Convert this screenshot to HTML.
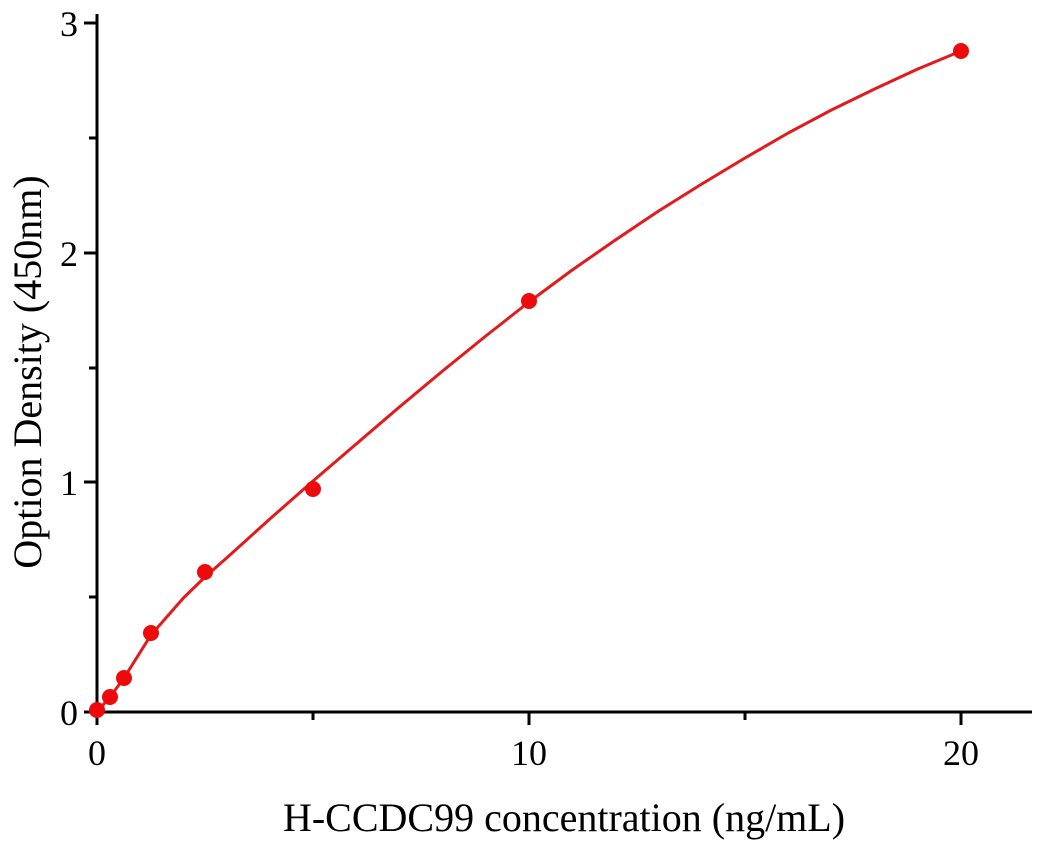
<!DOCTYPE html>
<html><head><meta charset="utf-8"><style>
html,body{margin:0;padding:0;background:#fff;}
svg{display:block;}
text{font-family:"Liberation Serif",serif;fill:#000;}
</style></head><body>
<svg width="1043" height="847" viewBox="0 0 1043 847">
<g stroke="#000" stroke-width="3" fill="none">
<line x1="97" y1="14" x2="97" y2="725"/>
<line x1="84" y1="712" x2="1032" y2="712"/>
<line x1="529" y1="712" x2="529" y2="725"/>
<line x1="961" y1="712" x2="961" y2="725"/>
<line x1="313" y1="712" x2="313" y2="720"/>
<line x1="745" y1="712" x2="745" y2="720"/>
<line x1="84" y1="482" x2="97" y2="482"/>
<line x1="84" y1="253" x2="97" y2="253"/>
<line x1="84" y1="23" x2="97" y2="23"/>
<line x1="89" y1="597" x2="97" y2="597"/>
<line x1="89" y1="368" x2="97" y2="368"/>
<line x1="89" y1="138" x2="97" y2="138"/>
</g>
<g font-size="36" text-anchor="middle">
<text x="97" y="765">0</text>
<text x="529" y="765">10</text>
<text x="961" y="765">20</text>
</g>
<g font-size="36" text-anchor="end">
<text x="78" y="725">0</text>
<text x="78" y="495">1</text>
<text x="78" y="266">2</text>
<text x="78" y="36">3</text>
</g>
<text x="564" y="831" font-size="40" text-anchor="middle">H-CCDC99 concentration (ng/mL)</text>
<text transform="translate(41,372) rotate(-90)" font-size="40" text-anchor="middle">Option Density (450nm)</text>
<polyline fill="none" stroke="#e31a1c" stroke-width="3" stroke-linejoin="round" points="97,712 110,697 124,678 151,635 183.4,598 205,577 226.6,558 269.8,519 313,481 356.2,444 399.4,407 442.6,371 485.8,336 529,302 572.2,270 615.4,240 658.6,211 701.8,184 745,158 788.2,133 831.4,110 874.6,89 917.8,69 961,51"/>
<g fill="#ee0a0a">
<circle cx="97" cy="710" r="8"/>
<circle cx="110" cy="697" r="8"/>
<circle cx="124" cy="678" r="8"/>
<circle cx="151" cy="633" r="8"/>
<circle cx="205" cy="572" r="8"/>
<circle cx="313" cy="489" r="8"/>
<circle cx="529" cy="301" r="8"/>
<circle cx="961" cy="51" r="8"/>
</g>
</svg>
</body></html>
